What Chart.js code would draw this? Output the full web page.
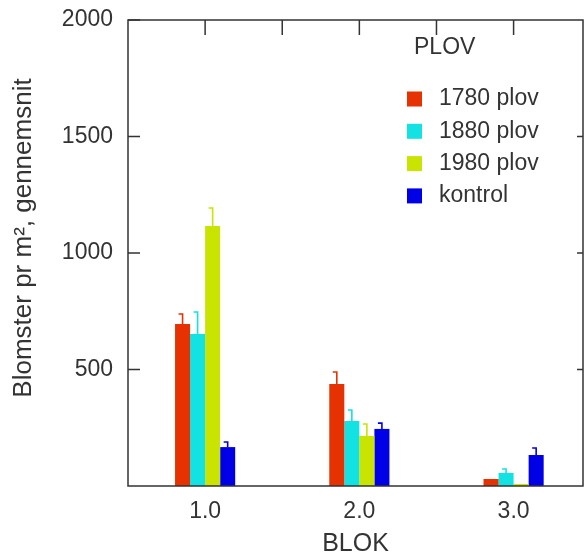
<!DOCTYPE html>
<html>
<head>
<meta charset="utf-8">
<style>
  html, body { margin: 0; padding: 0; background: #ffffff; }
  #c { display: block; }
</style>
<script src="https://cdn.jsdelivr.net/npm/chart.js@4/dist/chart.umd.min.js"></script>
</head>
<body>
<canvas id="c" width="585" height="556"></canvas>
<script>
// ---- data ----
const blokValues = [1, 2, 3];
const blokLabels = ['1.0', '2.0', '3.0'];
const topTickValues = [1, 1.5, 2, 2.5, 3];
const yTickValues = [500, 1000, 1500, 2000];

const seriesNames = ['1780 plov', '1880 plov', '1980 plov', 'kontrol'];
const plov1780 = [695, 438, 30];
const plov1880 = [652, 279, 56];
const plov1980 = [1116, 215, 9];
const kontrol = [167, 245, 133];
// standard error (upper whisker length)
const err1780 = [43, 51, 0];
const err1880 = [95, 47, 17];
const err1980 = [77, 51, 0];
const errKontrol = [22, 25, 30];

const legendTitle = 'PLOV';
const xTitle = 'BLOK';
const yTitle = 'Blomster pr m², gennemsnit';

const colors = ['#E63100', '#12E2E2', '#C8E400', '#0000E6'];
const seriesValues = [plov1780, plov1880, plov1980, kontrol];
const seriesErrors = [err1780, err1880, err1980, errKontrol];

const FONT = '"Liberation Sans", Arial, sans-serif';
const TXT = '#333333';

const datasets = seriesNames.map((name, i) => ({
  label: name,
  data: blokValues.map((x, j) => ({ x: x, y: seriesValues[i][j] })),
  backgroundColor: colors[i],
  borderWidth: 0,
  errors: seriesErrors[i],
  categoryPercentage: 0.39,
  barPercentage: 1.0
}));

const decorPlugin = {
  id: 'decor',
  afterDatasetsDraw(chart) {
    const ctx = chart.ctx;
    const xs = chart.scales.x, ys = chart.scales.y;
    const a = chart.chartArea;
    ctx.save();
    // error bars
    chart.data.datasets.forEach((ds, di) => {
      const meta = chart.getDatasetMeta(di);
      ctx.strokeStyle = ds.backgroundColor;
      ctx.lineWidth = 1.6;
      meta.data.forEach((el, j) => {
        const e = ds.errors[j];
        if (!e) return;
        const top = ys.getPixelForValue(ds.data[j].y + e);
        const x = el.x;
        ctx.beginPath();
        ctx.moveTo(x, el.y);
        ctx.lineTo(x, top);
        ctx.lineTo(x - 4, top);
        ctx.stroke();
      });
    });
    // frame
    ctx.strokeStyle = '#333333';
    ctx.lineWidth = 1.5;
    ctx.beginPath();
    ctx.rect(a.left, a.top, a.right - a.left, a.bottom - a.top);
    ctx.stroke();
    // inward ticks
    ctx.beginPath();
    yTickValues.forEach(v => {
      const y = ys.getPixelForValue(v);
      ctx.moveTo(a.left, y); ctx.lineTo(a.left + 12, y);
      if (v < 2000) { ctx.moveTo(a.right, y); ctx.lineTo(a.right - 6, y); }
    });
    topTickValues.forEach(v => {
      const x = xs.getPixelForValue(v);
      ctx.moveTo(x, a.top); ctx.lineTo(x, a.top + 15);
    });
    ctx.stroke();

    // legend
    ctx.fillStyle = TXT;
    ctx.font = '23px ' + FONT;
    ctx.textBaseline = 'middle';
    ctx.textAlign = 'left';
    ctx.fillText(legendTitle, 414, 48);
    chart.data.datasets.forEach((ds, i) => {
      const cy = 99 + i * 32.3;
      ctx.fillStyle = ds.backgroundColor;
      ctx.fillRect(407, cy - 7.5, 15, 15);
      ctx.fillStyle = TXT;
      ctx.fillText(ds.label, 439, cy);
    });

    // y title
    ctx.save();
    ctx.translate(24, 238);
    ctx.rotate(-Math.PI / 2);
    ctx.textAlign = 'center';
    ctx.font = '26px ' + FONT;
    ctx.fillText(yTitle, 0, 0);
    ctx.restore();
    // x title
    ctx.textAlign = 'center';
    ctx.font = '25px ' + FONT;
    ctx.fillText(xTitle, (a.left + a.right) / 2, 544);
    ctx.restore();
  }
};

new Chart(document.getElementById('c'), {
  type: 'bar',
  data: { datasets: datasets },
  options: {
    responsive: false,
    animation: false,
    devicePixelRatio: 1,
    layout: { padding: { left: 0, right: 2, top: 20, bottom: 0 } },
    plugins: { legend: { display: false }, tooltip: { enabled: false } },
    scales: {
      x: {
        type: 'linear',
        min: 0.5,
        max: 3.45,
        offset: false,
        grid: { display: false, drawTicks: false, offset: false },
        border: { display: false },
        afterBuildTicks: s => { s.ticks = blokValues.map(v => ({ value: v })); },
        afterFit: s => { s.height = 70; s.paddingLeft = 0; s.paddingRight = 0; },
        ticks: {
          autoSkip: false,
          maxRotation: 0,
          padding: 12,
          color: TXT,
          font: { family: FONT, size: 23 },
          callback: (v, i) => blokLabels[i]
        }
      },
      y: {
        min: 0,
        max: 2000,
        grid: { display: false, drawTicks: false },
        border: { display: false },
        afterBuildTicks: s => { s.ticks = [0].concat(yTickValues).map(v => ({ value: v })); },
        afterFit: s => { s.width = 128; s.paddingTop = 0; s.paddingBottom = 0; },
        ticks: {
          padding: 15,
          color: TXT,
          font: { family: FONT, size: 23 },
          callback: v => (v === 0 ? '' : String(v))
        }
      }
    }
  },
  plugins: [decorPlugin]
});
</script>
</body>
</html>
